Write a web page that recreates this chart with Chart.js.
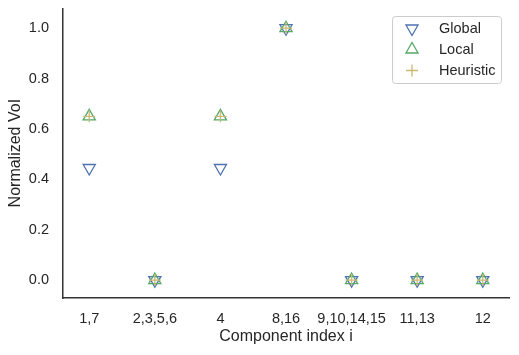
<!DOCTYPE html>
<html>
<head>
<meta charset="utf-8">
<script src="https://cdn.jsdelivr.net/npm/chart.js@4/dist/chart.umd.min.js"></script>
<style>
	html, body { margin: 0; padding: 0; background: #fff; }
	#wrap { width: 519px; height: 355px; }
</style>
</head>
<body>
<div id="wrap"><canvas id="myChartVoi" width="519" height="355"></canvas></div>
<script>
// component groups on the x axis
var categories = ["1,7", "2,3,5,6", "4", "8,16", "9,10,14,15", "11,13", "12"];
var globalVals = [0.445, 0, 0.445, 1.0, 0, 0, 0];
var localVals = [0.65, 0, 0.65, 1.0, 0, 0, 0];
var heuristicVals = [0.65, 0, 0.65, 1.0, 0, 0, 0];
var yTicks = [0, 0.2, 0.4, 0.6, 0.8, 1.0];

var fontFamily = "'Liberation Sans', Arial, sans-serif";
var textColor = "#262626";

function toPoints(vals) {
	return vals.map(function (v, i) {
		return { x: i, y: v };
	});
}

var series = [
	{ label: "Global", data: globalVals, color: "#4c72b0", style: "triangle", rotation: 180, radius: 7, order: 2 },
	{ label: "Local", data: localVals, color: "#55a868", style: "triangle", rotation: 0, radius: 7, order: 1 },
	{ label: "Heuristic", data: heuristicVals, color: "#ccb974", style: "cross", rotation: 0, radius: 6, order: 0 },
];

// legend drawn inside the plot area, top right, like matplotlib
var insideLegend = {
	id: "insideLegend",
	afterDraw: function (chart) {
		var ctx = chart.ctx;
		var x0 = 392, y0 = 16, w = 109, h = 67;
		ctx.save();
		ctx.beginPath();
		ctx.roundRect(x0 + 0.5, y0 + 0.5, w, h, 3);
		ctx.fillStyle = "rgba(255,255,255,0.8)";
		ctx.fill();
		ctx.strokeStyle = "#cccccc";
		ctx.lineWidth = 1;
		ctx.stroke();
		ctx.font = "14.5px " + fontFamily;
		ctx.textBaseline = "middle";
		ctx.textAlign = "left";
		series.forEach(function (s, i) {
			var cy = 28.5 + i * 21;
			ctx.strokeStyle = s.color;
			ctx.fillStyle = "rgba(0,0,0,0)";
			ctx.lineWidth = 1.3;
			Chart.helpers.drawPoint(ctx, {
				pointStyle: s.style,
				radius: s.radius,
				rotation: s.rotation,
				borderWidth: 1.3,
			}, 412, cy);
			ctx.fillStyle = textColor;
			ctx.fillText(s.label, 439, cy);
		});
		ctx.restore();
	},
};

var ctx = document.getElementById("myChartVoi").getContext("2d");
var myChart = new Chart(ctx, {
	type: "scatter",
	data: {
		datasets: series.map(function (s) {
			return {
				label: s.label,
				data: toPoints(s.data),
				pointStyle: s.style,
				pointRotation: s.rotation,
				pointRadius: s.radius,
				pointHoverRadius: s.radius,
				pointBorderWidth: 1.3,
				borderColor: s.color,
				backgroundColor: "rgba(0,0,0,0)",
				order: s.order,
			};
		}),
	},
	options: {
		responsive: false,
		animation: false,
		layout: { padding: { top: 8, right: 10, left: 0, bottom: 0 } },
		scales: {
			x: {
				type: "linear",
				min: -0.4,
				max: 6.4,
				afterBuildTicks: function (scale) {
					scale.ticks = categories.map(function (c, i) {
						return { value: i };
					});
				},
				afterFit: function (scale) {
					scale.height = 57;
					scale.paddingLeft = 0;
					scale.paddingRight = 0;
				},
				grid: { display: false, drawTicks: false },
				border: { display: true, color: "#333333", width: 1.5 },
				ticks: {
					color: textColor,
					padding: 12,
					autoSkip: false,
					maxRotation: 0,
					font: { family: fontFamily, size: 14.5 },
					callback: function (value) {
						return categories[value];
					},
				},
				title: {
					display: true,
					text: "Component index i",
					color: textColor,
					font: { family: fontFamily, size: 16 },
					padding: { top: 0, bottom: 9 },
				},
			},
			y: {
				min: -0.071,
				max: 1.079,
				afterBuildTicks: function (scale) {
					scale.ticks = yTicks.map(function (v) {
						return { value: v };
					});
				},
				afterFit: function (scale) {
					scale.width = 63;
					scale.paddingTop = 0;
					scale.paddingBottom = 0;
				},
				grid: { display: false, drawTicks: false },
				border: { display: true, color: "#333333", width: 1.5 },
				ticks: {
					color: textColor,
					padding: 14,
					font: { family: fontFamily, size: 14.5 },
					callback: function (value) {
						return value.toFixed(1);
					},
				},
				title: {
					display: true,
					text: "Normalized VoI",
					color: textColor,
					font: { family: fontFamily, size: 16 },
					padding: { top: 6, bottom: 0 },
				},
			},
		},
		plugins: {
			legend: { display: false },
			tooltip: { enabled: false },
		},
	},
	plugins: [insideLegend],
});
</script>
</body>
</html>
